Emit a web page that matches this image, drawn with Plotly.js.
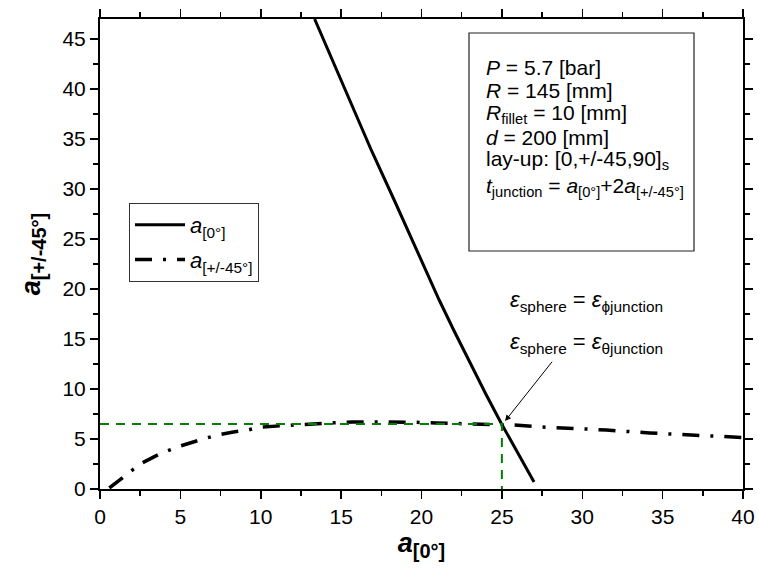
<!DOCTYPE html>
<html>
<head>
<meta charset="utf-8">
<script src="https://cdn.plot.ly/plotly-3.0.1.min.js"></script>
<style>html,body{margin:0;padding:0;background:#fff;}#chart{width:759px;height:572px;}</style>
</head>
<body>
<div id="chart"></div>
<script>
// a[0°] curve (solid)
const a0X = [13.35, 14.4, 15.5, 16.9, 18.3, 19.4, 20.5, 21.1, 22.0, 23.0, 24.0, 24.95, 26.0, 27.0];
const a0Y = [47.0, 43.06, 38.9, 33.8, 28.9, 24.9, 20.9, 18.9, 15.9, 12.65, 9.5, 6.6, 3.6, 0.7];
// a[+/-45°] curve (dash-dot)
const a45X = [0.58, 1.5, 2.5, 3.7, 5, 6.2, 7.3, 8.3, 9.2, 10, 11.3, 12.6, 14.2, 15.7, 17, 18.2, 19.5, 20.9, 22.5, 24.4, 25.7, 27.5, 29, 31.5, 34.2, 36.8, 39.4, 40];
const a45Y = [0.1, 1.3, 2.5, 3.5, 4.3, 4.9, 5.4, 5.7, 5.9, 6.2, 6.35, 6.5, 6.6, 6.7, 6.72, 6.7, 6.68, 6.6, 6.55, 6.5, 6.4, 6.2, 6.1, 5.9, 5.6, 5.4, 5.2, 5.15];
// green guide through the intersection point
const guideX = [0, 25, 25];
const guideY = [6.5, 6.5, 0];
// tick values
const xTicks = [0, 5, 10, 15, 20, 25, 30, 35, 40];
const yTicks = [0, 5, 10, 15, 20, 25, 30, 35, 40, 45];
// parameter box lines
const boxLines = [
  "<i>P</i> = 5.7 [bar]",
  "<i>R</i> = 145 [mm]",
  "<i>R</i><sub>fillet</sub> = 10 [mm]",
  "<i>d</i> = 200 [mm]",
  "lay-up: [0,+/-45,90]<sub>s</sub>",
  "<i>t</i><sub>junction</sub> = <i>a</i><sub>[0°]</sub>+2<i>a</i><sub>[+/-45°]</sub>"
];
const eqLines = [
  "<i>ε</i><sub>sphere</sub> = <i>ε</i><sub>ϕjunction</sub>",
  "<i>ε</i><sub>sphere</sub> = <i>ε</i><sub>θjunction</sub>"
];

const FONT = "Liberation Sans, Arial, sans-serif";
const L = 100, R = 743, T = 19, B = 489;
const px2x = p => (p - L) / (R - L);
const py2y = p => (B - p) / (B - T);

const traces = [
  {x: a0X, y: a0Y, mode: 'lines', name: '<i>a</i><sub>[0°]</sub>', legendgroup: 'g1',
   line: {color: '#000', width: 3}},
  {x: a45X, y: a45Y, mode: 'lines', name: '<i>a</i><sub>[+/-45°]</sub>', legendgroup: 'g2',
   line: {color: '#000', width: 3.5, dash: '17px,11px,3px,11px'}},
  {x: guideX, y: guideY, mode: 'lines', showlegend: false,
   line: {color: '#008000', width: 2, dash: '9px,7px'}}
];

const annotations = [];
const boxY = [67, 90, 114, 137, 160, 187];
boxLines.forEach((t, i) => annotations.push({
  xref: 'paper', yref: 'paper', x: px2x(484), y: py2y(boxY[i]),
  xanchor: 'left', yanchor: 'middle', text: t, showarrow: false,
  font: {family: FONT, size: 21, color: '#000'}
}));
const eqY = [301, 343];
eqLines.forEach((t, i) => annotations.push({
  xref: 'paper', yref: 'paper', x: px2x(508), y: py2y(eqY[i]),
  xanchor: 'left', yanchor: 'middle', text: t, showarrow: false,
  font: {family: FONT, size: 22, color: '#000'}
}));
// arrow to the intersection
annotations.push({
  x: 25.2, y: 6.8, xref: 'x', yref: 'y', text: ' ', showarrow: true,
  ax: 50, ay: -63, arrowhead: 2, arrowsize: 1.2, arrowwidth: 1, arrowcolor: '#000', standoff: 0
});

const shapes = [{
  type: 'rect', xref: 'paper', yref: 'paper',
  x0: px2x(469), x1: px2x(694), y0: py2y(251), y1: py2y(33),
  line: {color: '#222', width: 1.2}, fillcolor: 'rgba(0,0,0,0)'
}];

const axisCommon = {
  showgrid: false, zeroline: false, showline: true, linecolor: '#000', linewidth: 2,
  mirror: 'ticks', ticks: 'outside', ticklen: 8, tickwidth: 1.5, tickcolor: '#000',
  tickfont: {family: FONT, size: 21, color: '#000'},
  minor: {ticks: 'outside', ticklen: 5, tickwidth: 1.5, tickcolor: '#000'}
};

const layout = {
  width: 759, height: 572,
  margin: {l: L, r: 759 - R, t: T, b: 572 - B},
  paper_bgcolor: '#fff', plot_bgcolor: '#fff',
  font: {family: FONT, color: '#000'},
  xaxis: Object.assign({}, axisCommon, {
    range: [0, 40], tickvals: xTicks, ticktext: xTicks.map(String),
    minor: Object.assign({}, axisCommon.minor, {dtick: 2.5, tick0: 0}),
    title: {text: '<b><i>a</i><sub><span style="font-size:20px">[0°]</span></sub></b>', font: {family: FONT, size: 27, color: '#000'}, standoff: 6}
  }),
  yaxis: Object.assign({}, axisCommon, {
    range: [0, 47], tickvals: yTicks, ticktext: yTicks.map(String),
    minor: Object.assign({}, axisCommon.minor, {dtick: 2.5, tick0: 0}),
    title: {text: '<b><i>a</i><sub><span style="font-size:20px">[+/-45°]</span></sub></b>', font: {family: FONT, size: 27, color: '#000'}, standoff: 14}
  }),
  legend: {
    x: px2x(129), y: py2y(203), xanchor: 'left', yanchor: 'top',
    bordercolor: '#333', borderwidth: 1, bgcolor: '#fff',
    font: {family: FONT, size: 22, color: '#000'}, itemwidth: 50, tracegroupgap: 3
  },
  annotations: annotations,
  shapes: shapes
};

Plotly.newPlot('chart', traces, layout, {displayModeBar: false, staticPlot: true});
</script>
</body>
</html>
